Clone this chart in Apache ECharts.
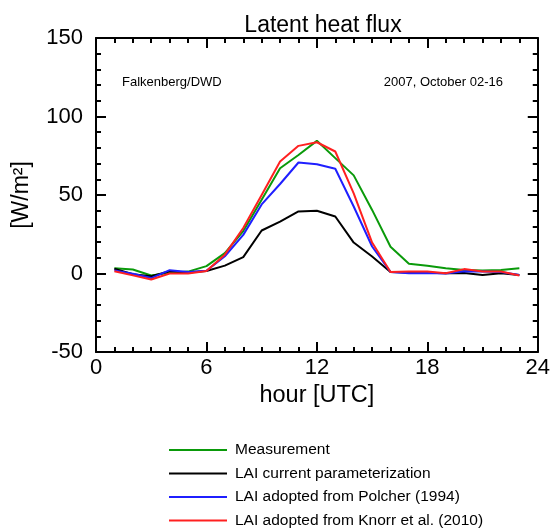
<!DOCTYPE html>
<html><head><meta charset="utf-8">
<script src="https://cdn.jsdelivr.net/npm/echarts@6/dist/echarts.min.js"></script>
<style>html,body{margin:0;padding:0;background:#fff}#c{width:553px;height:529px}</style>
</head><body><div id="c"></div>
<script>
const hours = [1,2,3,4,5,6,7,8,9,10,11,12,13,14,15,16,17,18,19,20,21,22,23];
const measurement = [3.3,2.5,-1.3,0.5,1.2,4.7,13,27,47,67,75.5,84.5,73.5,62.5,40.5,17,6.2,5,3.4,2.3,1.9,2.2,3.3];
const laiCurrent  = [3,-0.5,-1.8,1.4,0.6,1.6,5,10.4,27.4,33,39.5,40,36.3,19.7,10.8,1,0.6,0.5,0.2,0.3,-1,0.2,-1];
const laiPolcher  = [2,-0.2,-2.9,2.1,0.9,1.7,11,24.6,44,57,70.7,69.6,66.7,42.7,17.2,1,0.2,0.3,0,1.5,1.3,1,-1];
const laiKnorr    = [1.4,-1.2,-3.8,0,0,1.6,12,29,50,71.3,81.3,83.6,77.7,51,19.7,1,1.3,1.3,0.2,2.8,1.3,1.3,-1.3];
const seriesNames = ['Measurement','LAI current parameterization','LAI adopted from Polcher (1994)','LAI adopted from Knorr et al. (2010)'];
const seriesColors = ['#0a9a0a','#000000','#1f1fff','#ff2020'];
const seriesData = [measurement, laiCurrent, laiPolcher, laiKnorr];

const FONT = 'Liberation Sans';
const chart = echarts.init(document.getElementById('c'), null, {renderer:'canvas'});
const tickStyle = {color:'#000',width:2};
function axis(base, pos, showLabel, splitMinor, extra){
  return Object.assign({}, base, {
    position:pos,
    axisLine:{show:true,onZero:false,lineStyle:{color:'#000',width:2}},
    axisTick:{show:true,inside:true,length:10,lineStyle:tickStyle},
    minorTick:{show:true,splitNumber:splitMinor,length:5,lineStyle:tickStyle},
    splitLine:{show:false},
    axisLabel:{show:showLabel,color:'#000',fontFamily:FONT,fontSize:22}
  }, extra||{});
}
const xBase = {type:'value',min:0,max:24,interval:6};
const yBase = {type:'value',min:-50,max:150,interval:50};
chart.setOption({
  animation:false,
  backgroundColor:'#fff',
  title:{text:'Latent heat flux',left:318,top:9,textAlign:'center',textStyle:{fontFamily:FONT,fontSize:23,fontWeight:'normal',color:'#000'}},
  grid:{left:96,right:15,top:38,bottom:177},
  xAxis:[
    axis(xBase,'bottom',true,6,{name:'hour [UTC]',nameLocation:'middle',nameGap:23,
      nameTextStyle:{fontFamily:FONT,fontSize:23.5,color:'#000'},
      axisLabel:{show:true,color:'#000',fontFamily:FONT,fontSize:22,margin:5}}),
    axis(xBase,'top',false,6)
  ],
  yAxis:[
    axis(yBase,'left',true,5,{name:'[W/m²]',nameLocation:'middle',nameGap:63,nameRotate:90,
      nameTextStyle:{fontFamily:FONT,fontSize:23,color:'#000'},
      axisLabel:{show:true,color:'#000',fontFamily:FONT,fontSize:22,margin:13}}),
    axis(yBase,'right',false,5)
  ],
  legend:{
    orient:'vertical',left:169,top:442,padding:0,height:90,
    icon:'rect',itemWidth:58,itemHeight:2,itemGap:7.5,
    data:seriesNames,
    textStyle:{fontFamily:FONT,fontSize:15.5,lineHeight:15.5,color:'#000',padding:[0,0,0,3]}
  },
  graphic:[
    {type:'text',left:122,top:76,style:{text:'Falkenberg/DWD',fontFamily:FONT,fontSize:13,fill:'#000'}},
    {type:'text',right:50,top:76,style:{text:'2007, October 02-16',fontFamily:FONT,fontSize:13,fill:'#000'}}
  ],
  series: seriesNames.map((n,i)=>({
    name:n,type:'line',xAxisIndex:0,yAxisIndex:0,
    data:hours.map((h,j)=>[h,seriesData[i][j]]),
    symbol:'none',
    lineStyle:{color:seriesColors[i],width:2},
    itemStyle:{color:seriesColors[i]}
  }))
});
</script></body></html>
